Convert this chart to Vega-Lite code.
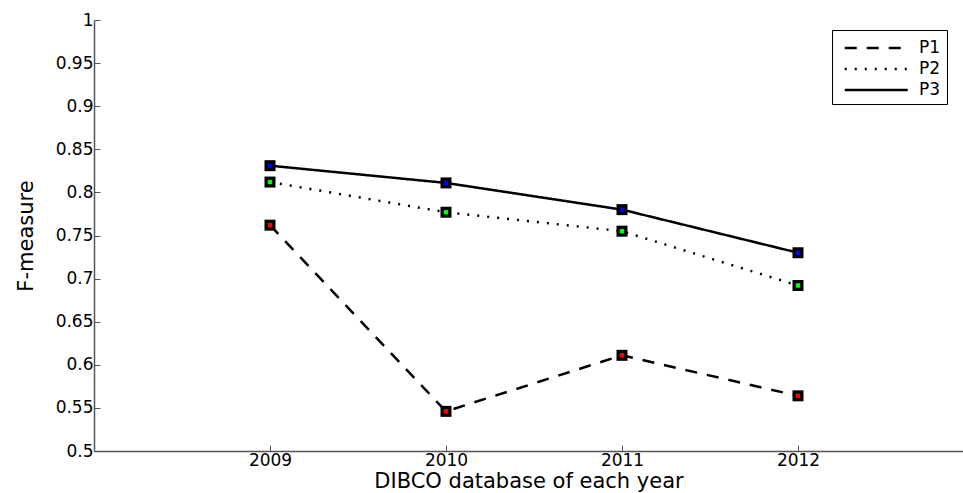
{
  "$schema": "https://vega.github.io/schema/vega-lite/v6.json",
  "autosize": "none",
  "width": 869,
  "height": 431,
  "padding": {"left": 94, "top": 20, "right": 0, "bottom": 42},
  "background": "white",
  "config": {
    "view": {"stroke": null},
    "font": "DejaVu Sans",
    "axis": {
      "grid": false,
      "domainColor": "#555555",
      "domainWidth": 1.5,
      "tickColor": "#555555",
      "tickWidth": 1,
      "labelFont": "DejaVu Sans",
      "labelFontSize": 17,
      "labelColor": "black",
      "titleFont": "DejaVu Sans",
      "titleFontSize": 21,
      "titleFontWeight": "normal",
      "titleColor": "black"
    }
  },
  "data": {
    "values": [
      {"year": 2009, "series": "P1", "value": 0.762},
      {"year": 2010, "series": "P1", "value": 0.546},
      {"year": 2011, "series": "P1", "value": 0.611},
      {"year": 2012, "series": "P1", "value": 0.564},
      {"year": 2009, "series": "P2", "value": 0.812},
      {"year": 2010, "series": "P2", "value": 0.777},
      {"year": 2011, "series": "P2", "value": 0.755},
      {"year": 2012, "series": "P2", "value": 0.692},
      {"year": 2009, "series": "P3", "value": 0.831},
      {"year": 2010, "series": "P3", "value": 0.811},
      {"year": 2011, "series": "P3", "value": 0.780},
      {"year": 2012, "series": "P3", "value": 0.730}
    ]
  },
  "encoding": {
    "x": {
      "field": "year", "type": "quantitative",
      "scale": {"domain": [2008, 2012.9375], "nice": false, "zero": false},
      "axis": {"values": [2009, 2010, 2011, 2012], "format": "d", "tickSize": -6, "labelPadding": 7, "title": "DIBCO database of each year", "titlePadding": 2}
    },
    "y": {
      "field": "value", "type": "quantitative",
      "scale": {"domain": [0.5, 1], "nice": false, "zero": false},
      "axis": {"values": [0.5, 0.55, 0.6, 0.65, 0.7, 0.75, 0.8, 0.85, 0.9, 0.95, 1], "format": "~g", "tickSize": -6, "labelPadding": 7, "title": "F-measure", "titlePadding": 19}
    }
  },
  "layer": [
    {
      "mark": {"type": "line", "color": "black", "strokeWidth": 2.5},
      "encoding": {
        "strokeDash": {
          "field": "series", "type": "nominal",
          "scale": {"domain": ["P1", "P2", "P3"], "range": [[12, 10], [2, 8], [1, 0]]},
          "legend": {
            "title": null,
            "orient": "none",
            "legendX": 738,
            "legendY": 10,
            "symbolType": "M-0.5,0H5.5",
            "symbolSize": 441,
            "symbolStrokeWidth": 2.5,
            "symbolStrokeColor": "black",
            "labelFont": "DejaVu Sans",
            "labelFontSize": 17,
            "labelColor": "black",
            "strokeColor": "black",
            "fillColor": "white",
            "padding": 6,
            "rowPadding": 1,
            "labelOffset": 57
          }
        }
      }
    },
    {
      "mark": {"type": "point", "shape": "square", "filled": true, "color": "black", "size": 121, "opacity": 1}
    },
    {
      "mark": {"type": "point", "shape": "square", "filled": true, "size": 20, "opacity": 1},
      "encoding": {
        "color": {
          "field": "series", "type": "nominal",
          "scale": {"domain": ["P1", "P2", "P3"], "range": ["#ff0000", "#00ff00", "#0000ff"]},
          "legend": null
        }
      }
    }
  ]
}
